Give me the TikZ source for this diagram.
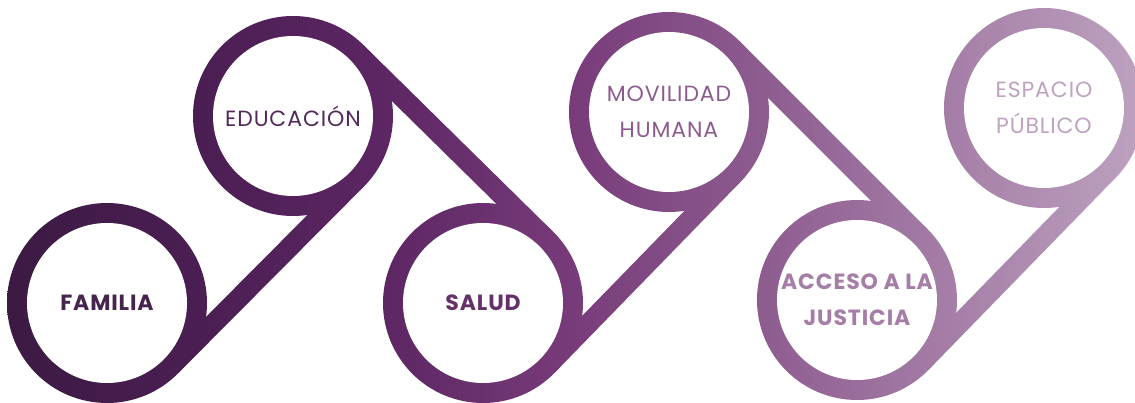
\documentclass[tikz,border=0pt]{standalone}
\usepackage{fontspec}
\setmainfont{Poppins}[LetterSpace=4]
\usepackage{tikz}
\usetikzlibrary{calc,backgrounds}

\definecolor{plumA}{HTML}{3B1A42}
\definecolor{plumB}{HTML}{4A1E52}
\definecolor{plumC}{HTML}{5C2663}
\definecolor{plumD}{HTML}{783B7A}
\definecolor{plumE}{HTML}{8D5C8F}
\definecolor{plumF}{HTML}{A57EA7}
\definecolor{plumG}{HTML}{BEA3C0}

\pgfdeclarehorizontalshading{ribbon}{100bp}{color(0bp)=(plumA); color(25bp)=(plumA);
  color(33.26bp)=(plumB); color(41.52bp)=(plumC); color(49.78bp)=(plumD);
  color(58.04bp)=(plumE); color(66.30bp)=(plumF); color(75bp)=(plumG); color(100bp)=(plumG)}

\begin{document}
\begin{tikzpicture}[
    x=1pt, y=1pt,
    topic/.style={circle, fill=white, minimum size=160pt, inner sep=0pt, align=center, font=\fontsize{22}{36}\selectfont},
    ring/.style={shading=ribbon}
]
\useasboundingbox (0,0) rectangle (1135,402);

\node[topic, text=plumA!95!white] (familia) at (107,99) {\bfseries FAMILIA};
\node[topic, text=plumB!95!white] (educacion) at (293,286) {EDUCACIÓN};
\node[topic, text=plumC!95!white] (salud) at (483,99) {\bfseries SALUD};
\node[topic, text=plumE] (movilidad) at (669,290) {MOVILIDAD\\HUMANA};
\node[topic, text=plumF] (acceso) at (857,102) {\bfseries ACCESO A LA\\\bfseries JUSTICIA};
\node[topic, text=plumG] (espacio) at (1044,294) {ESPACIO\\PÚBLICO};

\begin{scope}[on background layer]
  % rings
  \shade[ring] (0,0) (1150,402)
    (familia.center) circle[radius=100] (educacion.center) circle[radius=100]
    (salud.center) circle[radius=100] (movilidad.center) circle[radius=100]
    (acceso.center) circle[radius=100] (espacio.center) circle[radius=100];
  % bands
  \foreach \a/\b/\p/\q in {familia/educacion/-90/90, educacion/salud/90/-90,
      salud/movilidad/-90/90, movilidad/acceso/90/-90, acceso/espacio/-90/90}
    \shade[ring] (0,0) (1150,402)
      ($(\a.center)!80pt!\p:(\b.center)$) -- ($(\a.center)!100pt!\p:(\b.center)$)
      -- ($(\b.center)!100pt!\q:(\a.center)$) -- ($(\b.center)!80pt!\q:(\a.center)$) -- cycle;
\end{scope}

\end{tikzpicture}
\end{document}
